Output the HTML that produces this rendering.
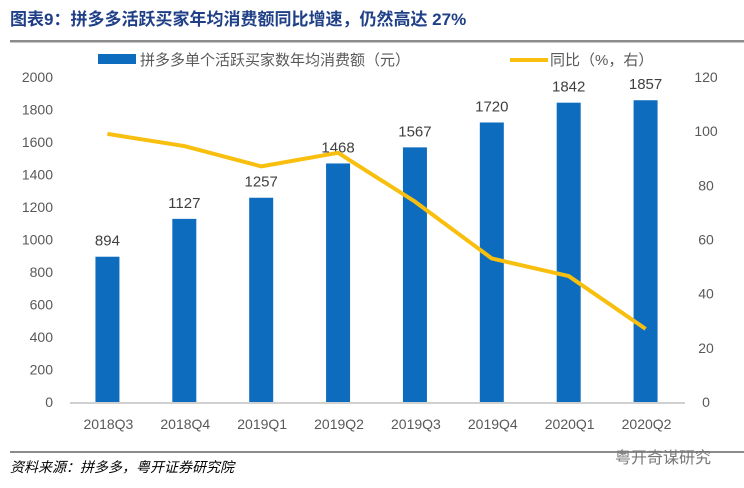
<!DOCTYPE html>
<html><head><meta charset="utf-8"><style>
body{margin:0;background:#fff;width:744px;height:488px;overflow:hidden;font-family:"Liberation Sans","Noto Sans CJK SC",sans-serif}
</style></head><body>
<svg width="744" height="488" id="svg" style="position:absolute;left:0;top:0">
<text x="10" y="25" font-size="17" font-weight="bold" fill="#1f3f87" font-family="Liberation Sans,Noto Sans CJK SC,sans-serif">图表9：拼多多活跃买家年均消费额同比增速，仍然高达 27%</text>
<rect x="10" y="40" width="734" height="2.5" fill="#8c8c8c"/>
<rect x="98" y="54" width="38" height="10" fill="#0e6cbf"/>
<text x="140" y="65" font-size="15" fill="#595959">拼多多单个活跃买家数年均消费额（元）</text>
<rect x="510" y="58" width="38" height="4" fill="#f8bf0e"/>
<text x="550" y="65" font-size="15" fill="#595959">同比（%，右）</text>
<g id="plot"></g>
<rect x="10" y="451" width="734" height="2" fill="#8c8c8c"/>
<text x="10" y="472" font-size="14" font-style="italic" fill="#000">资料来源：拼多多，粤开证券研究院</text>
<text x="615" y="463" font-size="16" fill="#777">粤开奇谋研究</text>
</svg>
<script>
const categories=["2018Q3","2018Q4","2019Q1","2019Q2","2019Q3","2019Q4","2020Q1","2020Q2"];
const spending=[894,1127,1257,1468,1567,1720,1842,1857];
const yoy=[99,94.5,87,92,74,53,46.5,27];
const leftTicks=[0,200,400,600,800,1000,1200,1400,1600,1800,2000];
const rightTicks=[0,20,40,60,80,100,120];
const NS="http://www.w3.org/2000/svg",g=document.getElementById('plot');
const y0=402,yTop=77,x0=70,x1=685,step=(x1-x0)/categories.length;
const yL=v=>y0-(v/2000)*(y0-yTop), yR=v=>y0-(v/120)*(y0-yTop), xC=i=>x0+step*(i+0.5)-1;
function mk(t,a,txt){const e=document.createElementNS(NS,t);for(const k in a)e.setAttribute(k,a[k]);if(txt!==undefined)e.textContent=txt;g.appendChild(e);return e;}
leftTicks.forEach(v=>{const e=mk('text',{x:53,y:yL(v)+5,'font-size':14,fill:'#595959','text-anchor':'end'},v);

});
rightTicks.forEach(v=>{const e=mk('text',{x:706,y:yR(v)+5,'font-size':14,fill:'#595959','text-anchor':'middle'},v);

});
spending.forEach((v,i)=>{const b=mk('rect',{x:xC(i)-12,y:yL(v),width:24,height:y0-yL(v),fill:'#0e6cbf'});


const t=mk('text',{x:xC(i),y:yL(v)-11,'font-size':15,fill:'#404040','text-anchor':'middle'},v);


const c=mk('text',{x:xC(i)+1,y:429,'font-size':14,fill:'#595959','text-anchor':'middle'},categories[i]);

});
const ax=mk('rect',{x:x0,y:y0,width:x1-x0,height:2,fill:'#d0d0d0'});


const ln=mk('polyline',{points:yoy.map((v,i)=>xC(i)+','+yR(v)).join(' '),fill:'none',stroke:'#f8bf0e','stroke-width':4,'stroke-linejoin':'round'});


</script>
</body></html>
